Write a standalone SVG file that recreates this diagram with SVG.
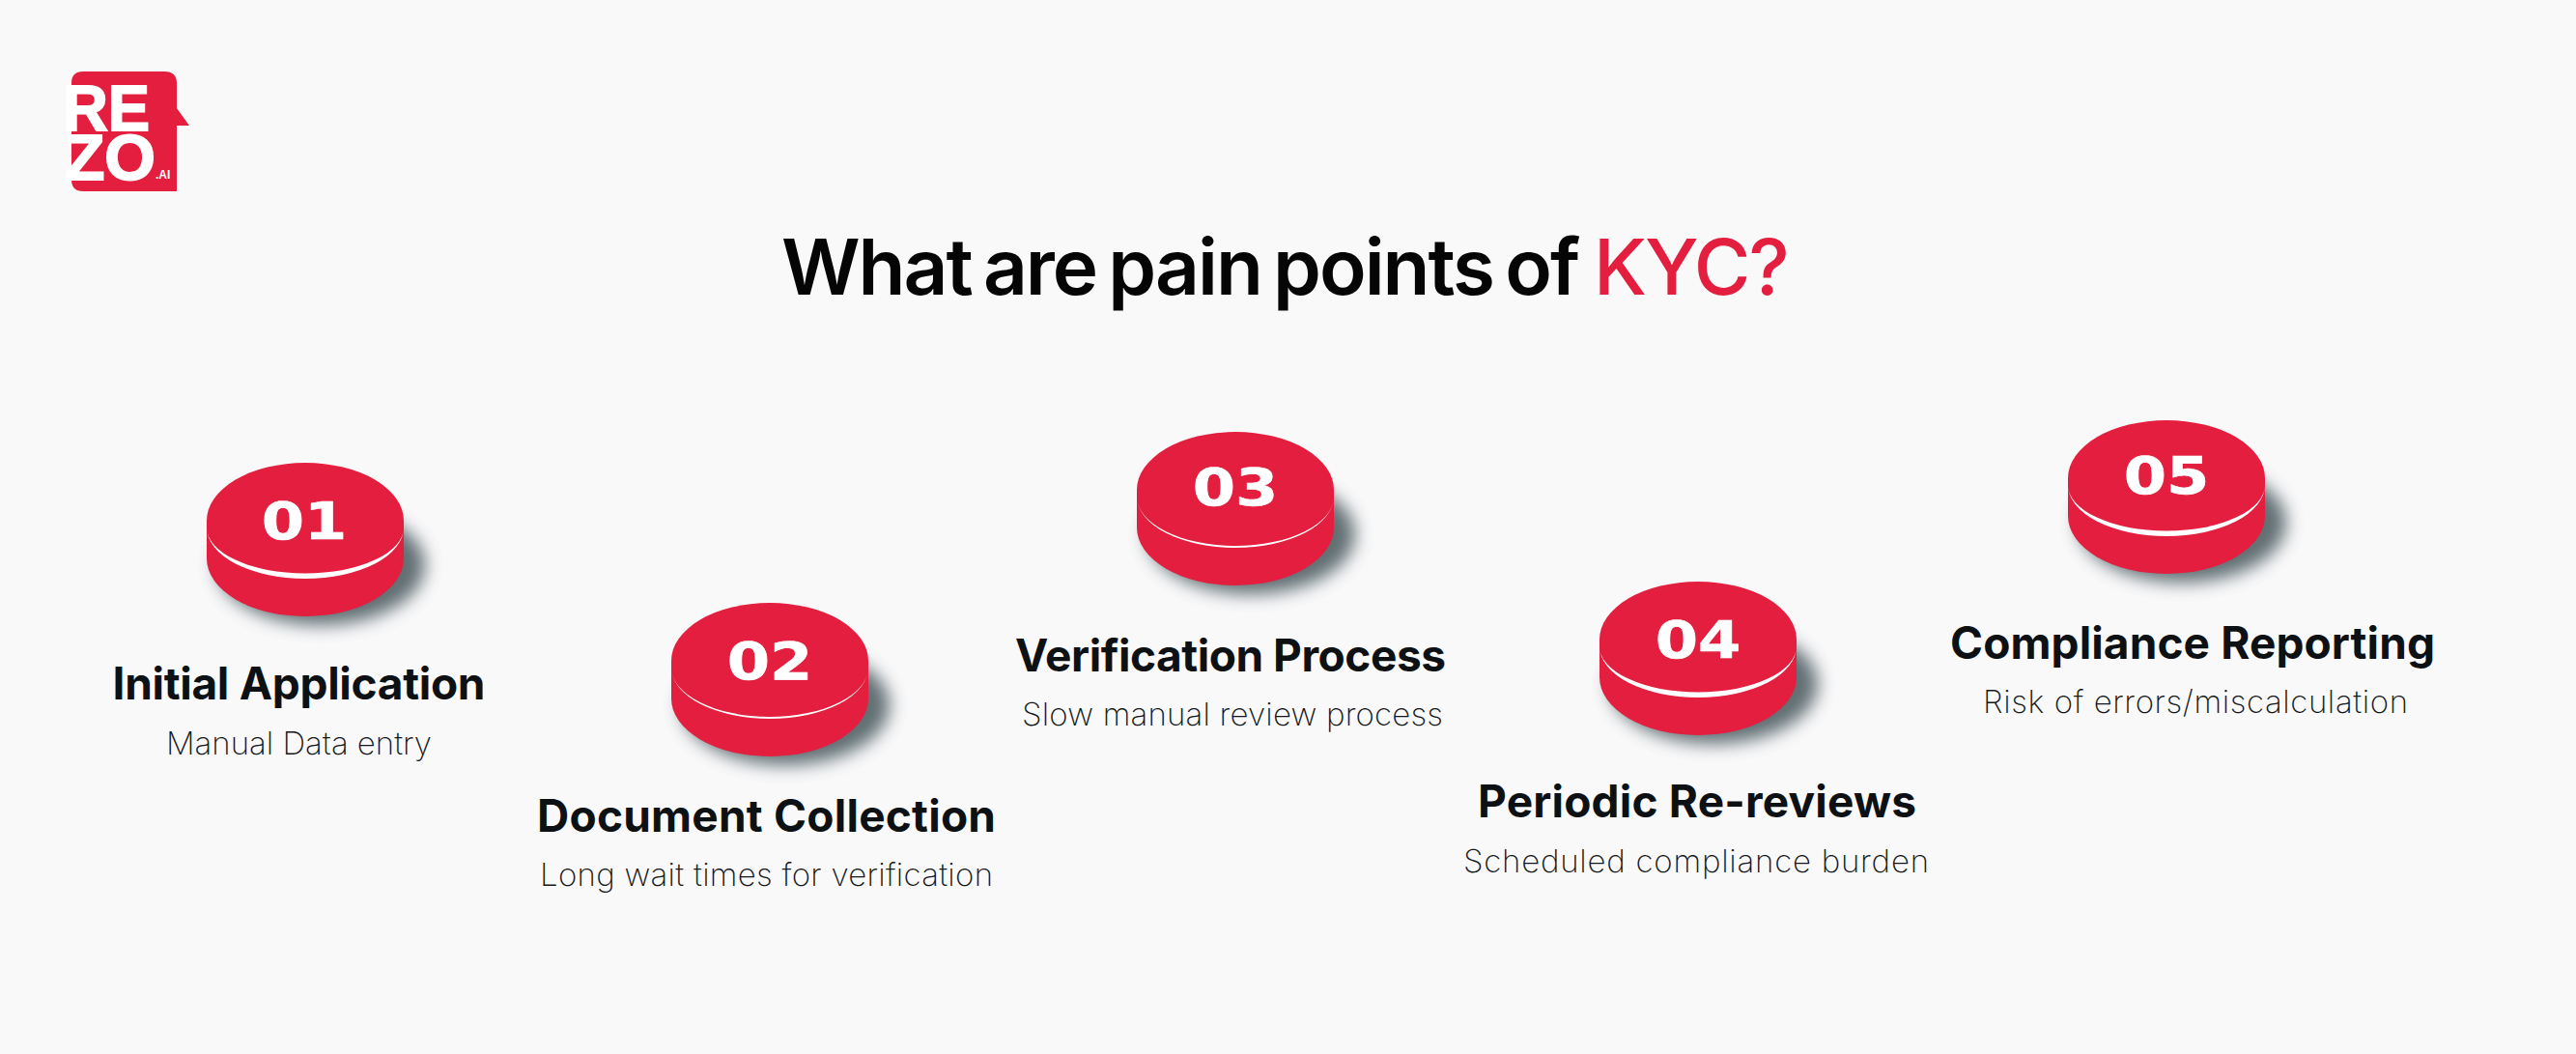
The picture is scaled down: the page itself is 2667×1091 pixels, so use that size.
<svg xmlns="http://www.w3.org/2000/svg" width="2667" height="1091" viewBox="0 0 2667 1091">
<defs>
<filter id="blur" x="-30%" y="-30%" width="160%" height="160%"><feGaussianBlur stdDeviation="9"/></filter>
<g id="base">
<ellipse cx="16" cy="46" rx="108" ry="62" fill="#47565c" opacity=".85" filter="url(#blur)"/>
<path d="M-102 0V39A102 60 0 0 0 102 39V0Z" fill="#e31e3f"/>
<ellipse cx="0" cy="0" rx="102" ry="60" fill="#e31e3f"/>
</g>
<g id="disc"><use href="#base"/><path d="M-102 7A102 53 0 0 0 102 7A102 47.500 0 0 1 -102 7Z" fill="#fff"/></g>
<g id="disc-thin"><use href="#base"/><path d="M-102 7A102 53 0 0 0 102 7A102 51 0 0 1 -102 7Z" fill="#fff"/></g>
</defs>
<style>
.t{font-family:"Inter","Liberation Sans",sans-serif;font-weight:700;font-size:46px;fill:#0d1114;text-anchor:middle}
.s{font-family:"Inter","Liberation Sans",sans-serif;font-weight:250;font-size:33px;fill:#15181b;text-anchor:middle}
.n{font-family:"DejaVu Sans",sans-serif;font-weight:700;font-size:54px;fill:#fff;stroke:#fff;stroke-width:.6;text-anchor:middle}
.h{font-family:"Inter","Liberation Sans",sans-serif;font-weight:600;font-size:80px;fill:#050505;letter-spacing:-2px;word-spacing:-6px}
.l{font-family:"Liberation Sans",sans-serif;font-weight:700;fill:#fff;stroke:#fff;stroke-width:2}
</style>
<rect width="2667" height="1091" fill="#f9f9fa"/>
<g id="logo">
<path d="M74 86Q74 74 86 74H170Q183 74 183 86V112L196 130H183V198H86Q74 198 74 186Z" fill="#e31e3f"/>
<text class="l" x="65" y="135" font-size="66" textLength="90" lengthAdjust="spacingAndGlyphs">RE</text>
<text class="l" x="67" y="186" font-size="66" textLength="94" lengthAdjust="spacingAndGlyphs">ZO</text>
<text x="161" y="185" font-family="Liberation Sans, sans-serif" font-weight="700" font-size="12" fill="#fff">.AI</text>
</g>
<text id="title" class="h" x="809" y="305">What are pain points of <tspan x="1650" fill="#e31e3f" font-weight="500">KYC?</tspan></text>
<g id="node1"><use href="#disc" x="316" y="539"/><text class="n" transform="translate(315 558) scale(1.18 1)">01</text><text class="t" x="309.500" y="724" textLength="386">Initial Application</text><text class="s" x="309.500" y="781" textLength="275">Manual Data entry</text></g>
<g id="node2"><use href="#disc-thin" x="797" y="684"/><text class="n" transform="translate(797 703) scale(1.18 1)">02</text><text class="t" x="793.500" y="861" textLength="475">Document Collection</text><text class="s" x="793.500" y="917" textLength="469">Long wait times for verification</text></g>
<g id="node3"><use href="#disc-thin" x="1279" y="507"/><text class="n" transform="translate(1279 523) scale(1.18 1)">03</text><text class="t" x="1274" y="695" textLength="446">Verification Process</text><text class="s" x="1276" y="751" textLength="436">Slow manual review process</text></g>
<g id="node4"><use href="#disc" x="1758" y="662"/><text class="n" transform="translate(1758 681) scale(1.18 1)">04</text><text class="t" x="1757" y="846" textLength="454">Periodic Re-reviews</text><text class="s" x="1756" y="903" textLength="482">Scheduled compliance burden</text></g>
<g id="node5"><use href="#disc" x="2243" y="495"/><text class="n" transform="translate(2243 511) scale(1.18 1)">05</text><text class="t" x="2270" y="682" textLength="502">Compliance Reporting</text><text class="s" x="2273" y="738" textLength="440">Risk of errors/miscalculation</text></g>
<g id="connectors"/>
</svg>
